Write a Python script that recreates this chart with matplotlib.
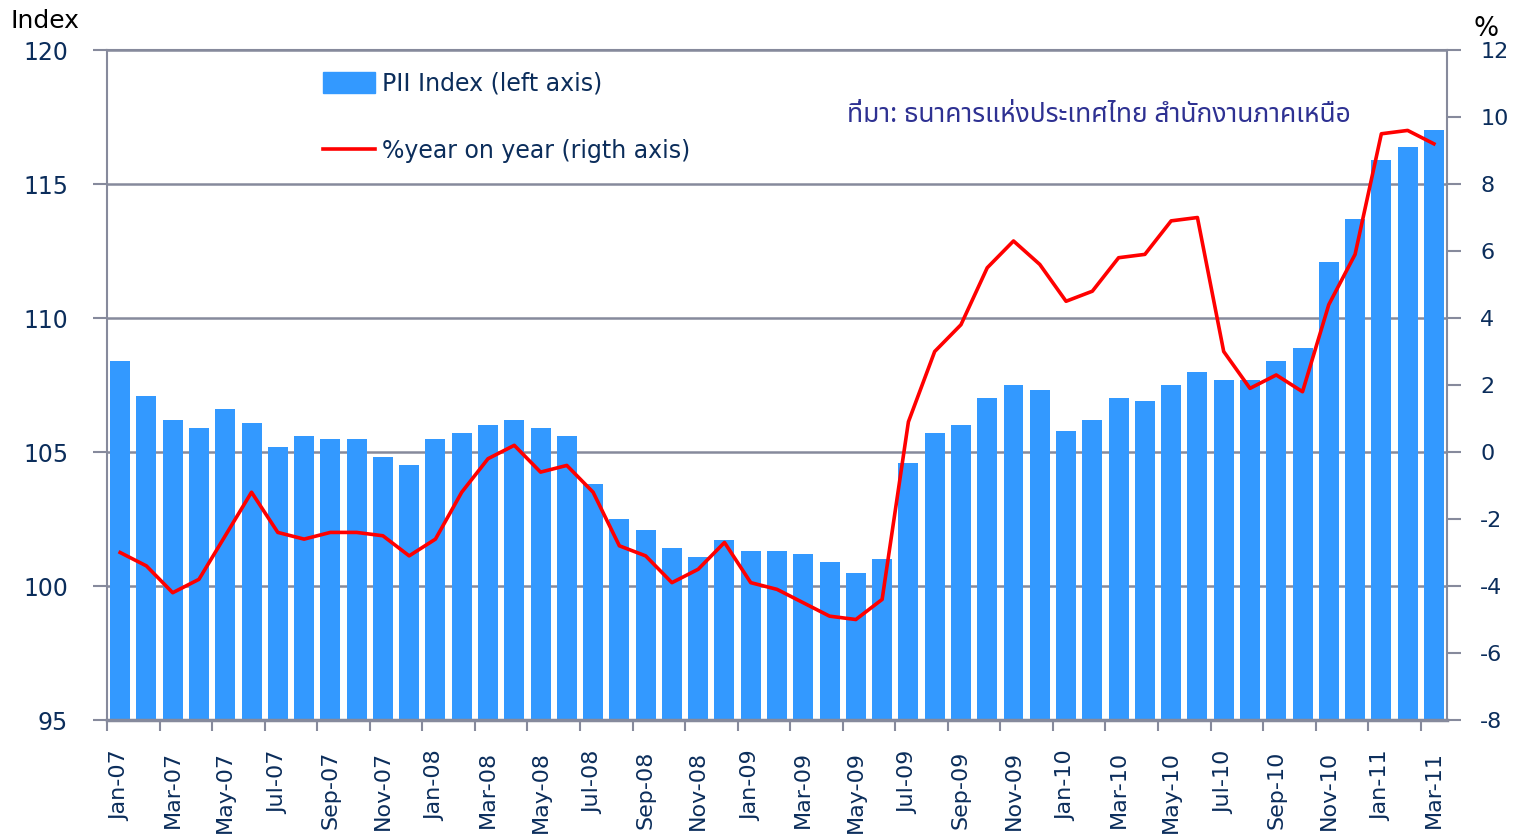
import matplotlib
matplotlib.use("Agg")
import matplotlib.pyplot as plt
from matplotlib.patches import Patch
from matplotlib.lines import Line2D
from matplotlib import font_manager

# monthly categories Jan-07 .. Mar-11
months = ["Jan", "Feb", "Mar", "Apr", "May", "Jun",
          "Jul", "Aug", "Sep", "Oct", "Nov", "Dec"]
labels = [f"{m}-{y:02d}" for y in range(7, 12) for m in months][:51]

# PII index (left axis)
pii_index = [108.4, 107.1, 106.2, 105.9, 106.6, 106.1, 105.2, 105.6, 105.5, 105.5,
             104.8, 104.5, 105.5, 105.7, 106.0, 106.2, 105.9, 105.6, 103.8, 102.5,
             102.1, 101.4, 101.1, 101.7, 101.3, 101.3, 101.2, 100.9, 100.5, 101.0,
             104.6, 105.7, 106.0, 107.0, 107.5, 107.3, 105.8, 106.2, 107.0, 106.9,
             107.5, 108.0, 107.7, 107.7, 108.4, 108.9, 112.1, 113.7, 115.9, 116.4,
             117.0]

# % year on year (right axis)
yoy = [-3.0, -3.4, -4.2, -3.8, -2.5, -1.2, -2.4, -2.6, -2.4, -2.4,
       -2.5, -3.1, -2.6, -1.2, -0.2, 0.2, -0.6, -0.4, -1.2, -2.8,
       -3.1, -3.9, -3.5, -2.7, -3.9, -4.1, -4.5, -4.9, -5.0, -4.4,
       0.9, 3.0, 3.8, 5.5, 6.3, 5.6, 4.5, 4.8, 5.8, 5.9,
       6.9, 7.0, 3.0, 1.9, 2.3, 1.8, 4.4, 5.9, 9.5, 9.6,
       9.2]

left_ticks = [95, 100, 105, 110, 115, 120]
right_ticks = [-8, -6, -4, -2, 0, 2, 4, 6, 8, 10, 12]

navy = "#0b2d5b"
grey = "#868a9c"

available = {f.name for f in font_manager.fontManager.ttflist}
plt.rcParams["font.family"] = ["DejaVu Sans"]
thai_family = [f for f in ["Noto Sans Thai", "Tahoma", "Loma", "Garuda", "Norasi",
                           "Noto Sans", "DejaVu Sans"] if f in available] or ["DejaVu Sans"]

fig = plt.figure(figsize=(15.2, 8.38), dpi=100)
ax = fig.add_axes([0.0704, 0.1408, 0.8816, 0.7995])
x = list(range(len(labels)))

ax.bar(x, pii_index, width=0.76, color="#3399ff", zorder=2)
ax.set_ylim(95, 120)
ax.set_xlim(-0.5, len(labels) - 0.5)
ax.set_yticks(left_ticks)
ax.set_yticklabels([str(v) for v in left_ticks])
ax.yaxis.grid(True, color=grey, linewidth=1.8, zorder=0)
ax.set_axisbelow(True)
ax.tick_params(axis="y", length=10, width=1.5, color=grey, labelsize=17,
               labelcolor=navy, pad=18)

# ticks at category boundaries, labels at every second month
ax.set_xticks([i - 0.5 for i in range(0, len(labels) + 1, 2)])
ax.set_xticklabels([])
ax.set_xticks(x[::2], minor=True)
ax.set_xticklabels(labels[::2], minor=True, rotation=90, fontsize=16,
                   color=navy)
ax.tick_params(axis="x", which="major", length=8, width=1.5, color=grey)
ax.tick_params(axis="x", which="minor", length=0, pad=22)

for side in ["left", "right", "top"]:
    ax.spines[side].set_color(grey)
    ax.spines[side].set_linewidth(1.5)
ax.spines["bottom"].set_color(grey)
ax.spines["bottom"].set_linewidth(2.5)

ax2 = ax.twinx()
ax2.plot(x, yoy, color="#ff0000", linewidth=2.6, zorder=3)
ax2.set_ylim(-8, 12)
ax2.set_yticks(right_ticks)
ax2.set_yticklabels([str(v) for v in right_ticks])
ax2.tick_params(axis="y", length=10, width=1.5, color=grey, labelsize=16,
                labelcolor=navy, pad=14)
for side in ["left", "right", "top", "bottom"]:
    ax2.spines[side].set_visible(False)

fig.text(0.007, 0.975, "Index", fontsize=18, color="black", va="center", ha="left")
fig.text(0.978, 0.965, "%", fontsize=19, color="black", va="center", ha="center")

handles = [Patch(color="#3399ff"), Line2D([0], [0], color="#ff0000", linewidth=2.6)]
ax.legend(handles, ["PII Index (left axis)", "%year on year (rigth axis)"],
          loc="upper left", bbox_to_anchor=(0.145, 1.0), frameon=False,
          fontsize=17, labelcolor=navy, handlelength=2.2, handleheight=1.0,
          handletextpad=0.3, labelspacing=1.85)

ax.text(0.928, 0.903, "ที่มา: ธนาคารแห่งประเทศไทย สำนักงานภาคเหนือ",
        transform=ax.transAxes, ha="right", va="center", fontsize=19,
        fontweight="bold", color="#2e3192", family=thai_family)

fig.savefig("out.png", dpi=100)
